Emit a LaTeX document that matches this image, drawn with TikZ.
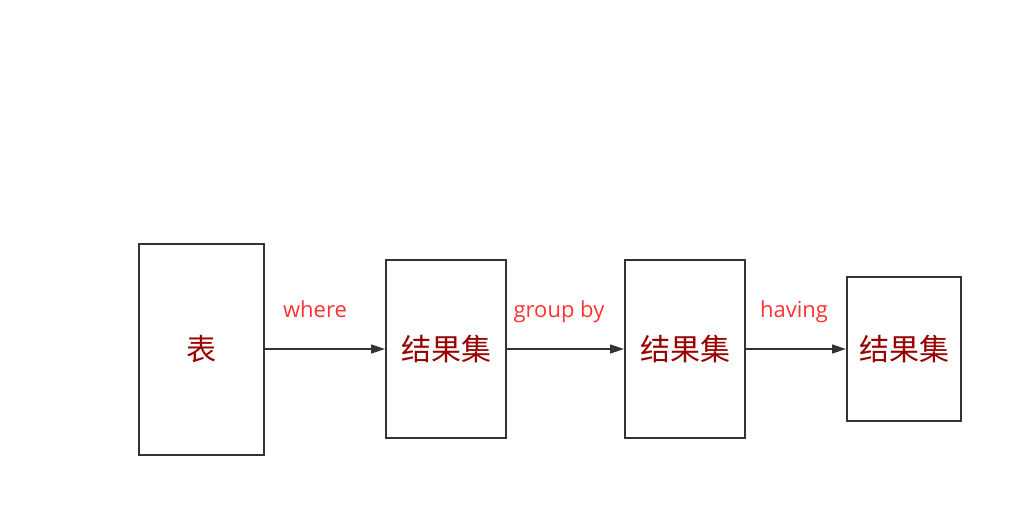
\documentclass[tikz,border=0pt]{standalone}
\usepackage{fontspec}
\setmainfont{Open Sans}
\newfontfamily\cjk{Noto Sans CJK SC}
\usetikzlibrary{arrows.meta}
\definecolor{boxtext}{HTML}{990000}
\definecolor{lbl}{HTML}{FF3333}
\definecolor{ln}{HTML}{333333}
\begin{document}
\begin{tikzpicture}[x=1pt,y=-1pt,
  blk/.style={draw=ln,line width=2pt,fill=white,inner sep=0pt,text=boxtext,font=\cjk\fontsize{30}{34}\selectfont},
  conn/.style={draw=ln,line width=1.6pt,-{Triangle[length=14pt,width=9pt]}},
  lab/.style={text=lbl,font=\fontsize{22}{26}\selectfont,inner sep=0pt,anchor=base}]
\useasboundingbox (0,0) rectangle (1023,516);
\node[blk,minimum width=125pt,minimum height=211pt] (b1) at (201.5,349) {表};
\node[blk,minimum width=120pt,minimum height=178pt] (b2) at (446,349) {结果集};
\node[blk,minimum width=120pt,minimum height=178pt] (b3) at (685,349) {结果集};
\node[blk,minimum width=114pt,minimum height=144pt] (b4) at (904,349) {结果集};
\draw[conn] (b1.east) -- (b2.west);
\draw[conn] (b2.east) -- (b3.west);
\draw[conn] (b3.east) -- (b4.west);
\node[lab] (l1) at (315,317) {where};
\node[lab] (l2) at (559,317) {group by};
\node[lab] (l3) at (794,317) {having};
\end{tikzpicture}
\end{document}
